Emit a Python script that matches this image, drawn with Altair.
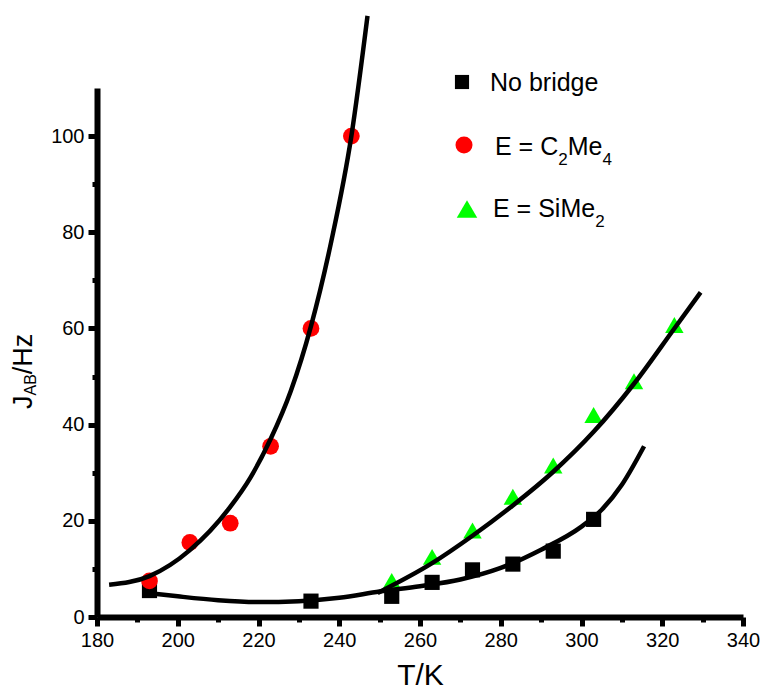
import altair as alt
import pandas as pd

# ---------------- data ----------------
T_C2ME4 = [193, 203, 213, 223, 233, 243]
J_C2ME4 = [7.5, 15.5, 19.5, 35.5, 60.0, 100.0]

T_NOBRIDGE = [193, 233, 253, 263, 273, 283, 293, 303]
J_NOBRIDGE = [5.5, 3.3, 4.3, 7.2, 9.8, 11.0, 13.7, 20.3]

T_SIME2 = [253, 263, 273, 283, 293, 303, 313, 323]
J_SIME2 = [7.5, 12.5, 18.0, 25.0, 31.5, 42.0, 49.0, 60.7]

# fitted curves, points
FIT_T_C2ME4 = [183, 193, 203, 213, 218, 223, 228, 233, 238, 243, 247]
FIT_J_C2ME4 = [6.7, 8.5, 13.9, 22.9, 29.0, 37.0, 47.0, 60.5, 78.0, 100.0, 125.0]

FIT_T_NOBRIDGE = [192.5, 200, 210, 220, 230, 240, 250, 260, 270, 280, 290, 300, 305, 310, 315.5]
FIT_J_NOBRIDGE = [5.0, 4.3, 3.5, 3.1, 3.3, 4.0, 5.3, 6.4, 7.8, 10.2, 14.0, 18.8, 22.3, 27.5, 35.5]

FIT_T_SIME2 = [249.5, 263, 273, 283, 293, 303, 313, 323, 329.5]
FIT_J_SIME2 = [5.0, 11.2, 16.9, 23.2, 30.2, 38.5, 48.5, 60.0, 67.5]

X_MAJOR = [180, 200, 220, 240, 260, 280, 300, 320, 340]
X_MINOR = [190, 210, 230, 250, 270, 290, 310, 330]
Y_MAJOR = [0, 20, 40, 60, 80, 100]
Y_MINOR = [10, 30, 50, 70, 90]

X_TITLE = "T/K"
# y title pieces: (text, is_subscript)
Y_TITLE = [("J", False), ("AB", True), ("/Hz", False)]

# legend rows: (shape, colour, pieces)
LEGEND = [
    ("square", "#000000", [("No bridge", False)]),
    ("circle", "#ff0000", [("E = C", False), ("2", True), ("Me", False), ("4", True)]),
    ("triangle-up", "#00ff00", [("E = SiMe", False), ("2", True)]),
]

# ---------------- styling ----------------
W, H = 646, 529
FONT = "Liberation Sans, Arial, sans-serif"
FS_MAIN, FS_SUB = 25, 17
YT_FS, YT_SUB = 27, 16

# Arial / Liberation Sans advance widths (em)
CW = {"E": .667, " ": .278, "=": .584, "C": .722, "M": .833, "e": .556, "S": .667,
      "i": .222, "2": .556, "4": .556, "N": .722, "o": .556, "b": .556, "r": .333,
      "d": .556, "g": .556, "J": .5, "A": .667, "B": .667, "/": .278, "H": .722, "z": .5}


def text_width(s, fs):
    return sum(CW.get(c, .556) for c in s) * fs


xscale = alt.Scale(domain=[180, 340], nice=False, zero=False)
yscale = alt.Scale(domain=[0, 110], nice=False)

AX = dict(domainWidth=6, domainColor="black", tickWidth=5, tickColor="black",
          grid=False, labelFont=FONT, labelColor="black", labelFlush=False)

xaxis = alt.Axis(orient="bottom", values=X_MAJOR, format="d", title=X_TITLE,
                 titleFont=FONT, titleFontSize=30, titlePadding=10,
                 titleFontWeight="normal", titleColor="black",
                 labelFontSize=20, labelPadding=4, tickSize=9, **AX)
yaxis = alt.Axis(orient="left", values=Y_MAJOR, format="d", title=None,
                 labelFontSize=20, labelPadding=4, tickSize=9, **AX)

X = alt.X("T:Q", scale=xscale, axis=xaxis)
Y = alt.Y("J:Q", scale=yscale, axis=yaxis)

df_nb = pd.DataFrame({"T": T_NOBRIDGE, "J": J_NOBRIDGE})
df_c2 = pd.DataFrame({"T": T_C2ME4, "J": J_C2ME4})
df_si = pd.DataFrame({"T": T_SIME2, "J": J_SIME2})
df_fit = pd.concat([
    pd.DataFrame({"T": FIT_T_C2ME4, "J": FIT_J_C2ME4, "s": "c2"}),
    pd.DataFrame({"T": FIT_T_NOBRIDGE, "J": FIT_J_NOBRIDGE, "s": "nb"}),
    pd.DataFrame({"T": FIT_T_SIME2, "J": FIT_J_SIME2, "s": "si"}),
])

squares = alt.Chart(df_nb).mark_point(shape="square", filled=True, size=230,
                                        color="black", opacity=1).encode(x=X, y=Y)
circles = alt.Chart(df_c2).mark_point(shape="circle", filled=True, size=280,
                                        color="#ff0000", opacity=1).encode(x=X, y=Y)
triangles = alt.Chart(df_si).mark_point(shape="triangle-up", filled=True, size=340,
                                          color="#00ff00", opacity=1).encode(x=X, y=Y)
curves = alt.Chart(df_fit).mark_line(color="black", strokeWidth=4.5,
                                     interpolate="monotone").encode(x=X, y=Y, detail="s:N")

one = pd.DataFrame({"a": [0]})
extra = []

# legend (pixel positions relative to the plot area)
LEG_MARK_X = [365, 367, 370]
LEG_MARK_Y = [-6, 57, 121]
LEG_MARK_SIZE = [200, 290, 420]
LEG_TEXT_X = [393, 398, 396]
LEG_TEXT_Y = [-5, 59, 121]
SUB_DY = 13
for i, (shape, colour, pieces) in enumerate(LEGEND):
    extra.append(alt.Chart(one).mark_point(shape=shape, filled=True, opacity=1,
                                           color=colour, size=LEG_MARK_SIZE[i]).encode(
        x=alt.value(LEG_MARK_X[i]), y=alt.value(LEG_MARK_Y[i])))
    px = LEG_TEXT_X[i]
    for txt, sub in pieces:
        fs = FS_SUB if sub else FS_MAIN
        extra.append(alt.Chart(one).mark_text(align="left", baseline="middle",
                                              font=FONT, fontSize=fs, color="#000000").encode(
            x=alt.value(px), y=alt.value(LEG_TEXT_Y[i] + (SUB_DY if sub else 0)),
            text=alt.value(txt)))
        px += text_width(txt, fs)

# rotated y-axis title built from pieces (reads bottom to top)
yt_x, yt_y = -65, 321
for txt, sub in Y_TITLE:
    fs = YT_SUB if sub else YT_FS
    extra.append(alt.Chart(one).mark_text(align="left", baseline="alphabetic", angle=270,
                                          font=FONT, fontSize=fs, color="#000000").encode(
        x=alt.value(yt_x + (4 if sub else 0)), y=alt.value(yt_y), text=alt.value(txt)))
    yt_y -= text_width(txt, fs)

main = alt.layer(squares, circles, triangles, curves, *extra)

# minor ticks via a second, label-less axis on the same scales
minor = alt.Chart(pd.DataFrame({"T": [180], "J": [0]})).mark_point(opacity=0).encode(
    x=alt.X("T:Q", scale=xscale,
            axis=alt.Axis(orient="bottom", values=X_MINOR, labels=False, domain=False,
                          tickSize=5, tickWidth=5, tickColor="black", grid=False, title="")),
    y=alt.Y("J:Q", scale=yscale,
            axis=alt.Axis(orient="left", values=Y_MINOR, labels=False, domain=False,
                          tickSize=5, tickWidth=5, tickColor="black", grid=False, title="")),
)

chart = alt.layer(main, minor).resolve_axis(x="independent", y="independent").properties(
    width=W, height=H,
    padding={"left": 89, "top": 80, "right": 18, "bottom": 78},
    autosize=alt.AutoSizeParams(type="none"),
    background="white",
).configure_view(strokeWidth=0)

chart.save("out.html", embed_options={"renderer": "svg", "actions": False})
